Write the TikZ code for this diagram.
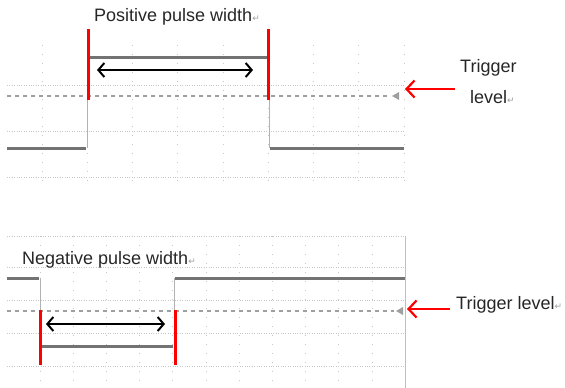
\documentclass[tikz,border=0pt]{standalone}
\usepackage{fontspec}
\setmainfont{Liberation Sans}
\newfontfamily\markfont{DejaVu Sans}
\usepackage{tikz}
\usetikzlibrary{arrows.meta,positioning}
\newcommand{\parmark}{{\markfont\color{gray!75}\fontsize{9}{9}\selectfont ↵}}

\begin{document}
\begin{tikzpicture}[x=1pt,y=-1pt,
  caption/.style={font=\fontsize{18}{20}\selectfont,text=black!85,inner sep=0pt,anchor=west},
  gridh/.style={gray!45,line width=0.8pt,dash pattern=on 0.8pt off 1.6pt},
  gridv/.style={gray!45,line width=0.8pt,dash pattern=on 1pt off 8pt},
  trig/.style={gray!75,line width=1.5pt,dash pattern=on 4pt off 4pt},
  wave/.style={black!55,line width=3pt},
  edge/.style={black!30,line width=1pt},
  marker/.style={red,line width=3pt},
  span/.style={{Straight Barb[length=6pt,width=14pt]}-{Straight Barb[length=6pt,width=14pt]},line width=2pt},
  pointer/.style={-{Straight Barb[length=8pt,width=17pt]},red,line width=2.2pt}]
  \useasboundingbox (0,0) rectangle (565,388);
  % upper panel
  \foreach \i in {0,...,8}
    \draw[gridv] ({42+45.25*\i},45) -- ({42+45.25*\i},188);
  \foreach \y in {85,131,177}
    \draw[gridh] (7,\y) -- (404,\y);
  \draw[trig] (7,96) -- (390,96);
  \fill[gray!75] (392,96) -- (399,92) -- (399,100) -- cycle;
  \draw[wave] (7,148) -- (86,148);
  \draw[edge] (87,148) -- (87,57);
  \draw[wave] (88,57) -- (268,57);
  \draw[edge] (269,57) -- (269,148);
  \draw[wave] (270,148) -- (404,148);
  \draw[marker] (88,29) -- (88,100);
  \draw[marker] (268,29) -- (268,100);
  \coordinate (riseA) at (88,70);
  \coordinate (fallA) at (268,70);
  \draw[span,shorten <=9pt,shorten >=15pt] (riseA) -- (fallA);
  \node[caption] (pos) at (94,17) {Positive pulse width\parmark};
  \node[caption] (trigA) at (460,68) {Trigger};
  \node[caption] (levA) at (470,97) {level\parmark};
  \coordinate (tailA) at (455,89);
  \coordinate (tipA) at (405,89);
  \draw[pointer] (tailA) -- (tipA);
  % lower panel
  \foreach \i in {0,...,10}
    \draw[gridv] ({40+33.2*\i},236) -- ({40+33.2*\i},388);
  \draw[gray!50,line width=0.8pt] (405,236) -- (405,388);
  \foreach \y in {236,267,300,333,366}
    \draw[gridh] (7,\y) -- (405,\y);
  \draw[trig] (7,311) -- (394,311);
  \fill[gray!75] (396,311) -- (403,307) -- (403,315) -- cycle;
  \draw[wave] (7,278) -- (39,278);
  \draw[edge] (40,278) -- (40,346);
  \draw[wave] (41,346) -- (173,346);
  \draw[edge] (174,346) -- (174,278);
  \draw[wave] (175,278) -- (405,278);
  \draw[marker] (40,310) -- (40,365);
  \draw[marker] (175,310) -- (175,365);
  \coordinate (fallB) at (40,324);
  \coordinate (riseB) at (175,324);
  \draw[span,shorten <=6pt,shorten >=10pt] (fallB) -- (riseB);
  \node[caption] (neg) at (22,260) {Negative pulse width\parmark};
  \node[caption] (trigB) at (456,305) {Trigger level\parmark};
  \coordinate (tailB) at (450,309);
  \coordinate (tipB) at (407,309);
  \draw[pointer] (tailB) -- (tipB);
\end{tikzpicture}
\end{document}
